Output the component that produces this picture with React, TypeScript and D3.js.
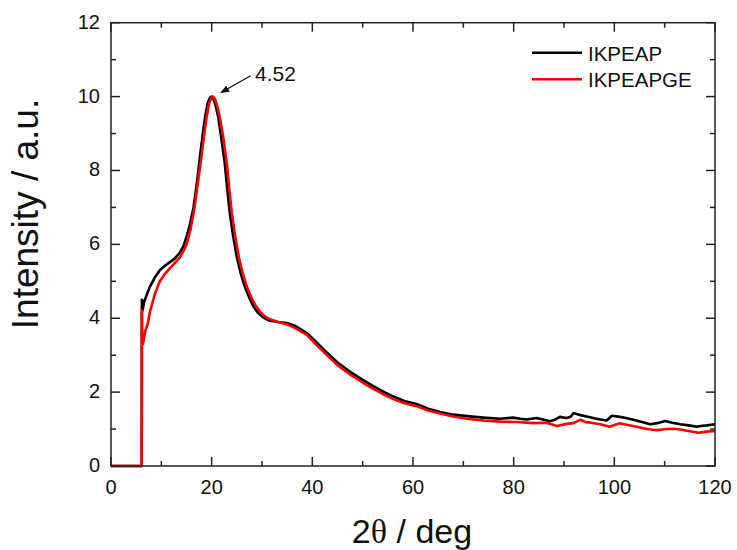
import React from "react";
import * as d3 from "d3";

const ikpeap: [number, number][] = [
  [0, 0], [6.1, 0], [6.12, 2.25], [6.14, 4.5], [6.25, 4.2], [6.6, 4.45], [7.7, 4.85], [8.7, 5.1], [9.7, 5.3],
  [10.7, 5.42], [11.7, 5.52], [12.7, 5.62], [13.7, 5.78], [14.4, 5.95], [15.0, 6.2], [15.7, 6.55], [16.4, 7.0],
  [17.1, 7.7], [17.7, 8.4], [18.2, 8.95], [18.7, 9.45], [19.2, 9.82], [19.7, 9.98], [20.0, 10.0], [20.4, 9.92],
  [20.8, 9.75], [21.3, 9.45], [21.9, 8.9], [22.6, 8.2], [23.1, 7.5], [23.6, 6.85], [24.3, 6.2], [25.0, 5.65],
  [25.8, 5.2], [26.6, 4.85], [27.5, 4.55], [28.3, 4.32], [29.2, 4.15], [30.3, 4.02], [31.6, 3.93], [33.2, 3.9],
  [34.9, 3.87], [36.5, 3.8], [38.9, 3.6], [40.8, 3.35], [42.9, 3.07], [45, 2.8], [47.5, 2.55], [50, 2.33],
  [52.1, 2.16], [54, 2.02], [56.1, 1.88], [58.3, 1.76], [60.7, 1.68], [63, 1.55], [65.4, 1.46], [68, 1.39],
  [70.7, 1.35], [74, 1.31], [77.3, 1.28], [79.9, 1.31], [81.3, 1.28], [82.6, 1.26], [84.5, 1.3], [86, 1.25],
  [87.2, 1.21], [88.3, 1.26], [89.2, 1.33], [90.5, 1.3], [91.3, 1.33], [91.9, 1.43], [92.5, 1.41], [93.5, 1.37],
  [94.5, 1.34], [96, 1.29], [97.2, 1.26], [98.5, 1.23], [99.5, 1.36], [101.1, 1.33], [102.5, 1.29], [103.8, 1.25],
  [105.5, 1.19], [107.1, 1.13], [108.5, 1.16], [110.1, 1.22], [111.5, 1.17], [113.1, 1.13], [114.8, 1.1],
  [116.4, 1.06], [117.5, 1.09], [118.4, 1.1], [120, 1.13],
];

const ikpeapge: [number, number][] = [
  [0, 0], [6.1, 0], [6.13, 4.2], [6.2, 3.4], [6.35, 3.3], [6.8, 3.65], [7.3, 3.85], [7.7, 4.15], [8.7, 4.65],
  [9.7, 5.0], [10.7, 5.2], [11.7, 5.35], [12.7, 5.5], [13.7, 5.65], [14.4, 5.82], [15.0, 6.0], [15.8, 6.4],
  [16.6, 7.0], [17.3, 7.7], [18.0, 8.4], [18.5, 8.95], [19.0, 9.45], [19.5, 9.82], [20.0, 9.98], [20.3, 10.0],
  [20.7, 9.92], [21.1, 9.75], [21.6, 9.45], [22.3, 8.9], [23.0, 8.2], [23.5, 7.5], [24.0, 6.85], [24.7, 6.2],
  [25.4, 5.65], [26.2, 5.2], [27.0, 4.85], [27.9, 4.55], [28.7, 4.35], [29.6, 4.18], [30.6, 4.05], [31.6, 3.97],
  [33.2, 3.9], [34.9, 3.84], [36.5, 3.74], [38.9, 3.55], [40.8, 3.28], [42.9, 3.0], [45, 2.73], [47.5, 2.48],
  [50, 2.26], [52.1, 2.09], [54, 1.95], [56.1, 1.81], [58.3, 1.7], [60.7, 1.62], [63, 1.5], [65.4, 1.42],
  [68, 1.34], [70.7, 1.28], [74, 1.23], [77.3, 1.2], [80.6, 1.19], [83.9, 1.16], [86.5, 1.17], [88.6, 1.08],
  [90.5, 1.14], [91.9, 1.16], [93.2, 1.25], [94.5, 1.18], [95.1, 1.18], [97.2, 1.13], [99.1, 1.06],
  [101.1, 1.16], [102.7, 1.11], [104.4, 1.06], [106.5, 1.0], [108.4, 0.97], [110.4, 1.0], [111.8, 1.01],
  [113.1, 0.99], [115, 0.94], [116.7, 0.9], [118.4, 0.93], [120, 0.95],
];

const xMajor = [0, 20, 40, 60, 80, 100, 120];
const xMinor = [10, 30, 50, 70, 90, 110];
const yMajor = [0, 2, 4, 6, 8, 10, 12];
const yMinor = [1, 3, 5, 7, 9, 11];
const seriesNames = ["IKPEAP", "IKPEAPGE"];
const seriesColors = ["#000000", "#ff0000"];
const peakLabel = "4.52";

const W = 737;
const H = 550;
const L = 111, R = 715, T = 22.7, B = 466;
const FONT = "'Liberation Sans', Arial, sans-serif";

export default function App() {
  const x = d3.scaleLinear().domain([0, 120]).range([L, R]);
  const y = d3.scaleLinear().domain([0, 12]).range([B, T]);
  const line = d3.line<[number, number]>().x((d) => x(d[0])).y((d) => y(d[1])).curve(d3.curveLinear);
  const axisColor = "#222";
  const major = 9, minor = 5;

  return (
    <svg width={W} height={H} style={{ position: "absolute", left: 0, top: 0, background: "#fff" }}>
      <defs>
        <marker id="ah" viewBox="0 0 10 10" refX="9" refY="5" markerWidth="9" markerHeight="9" orient="auto" markerUnits="userSpaceOnUse">
          <path d="M0,1 L10,5 L0,9 z" fill="#111" />
        </marker>
      </defs>
      <rect x={0} y={0} width={W} height={H} fill="#fff" />
      <path d={line(ikpeap) || ""} fill="none" stroke={seriesColors[0]} strokeWidth={2.6} strokeLinejoin="round" />
      <path d={line(ikpeapge) || ""} fill="none" stroke={seriesColors[1]} strokeWidth={2.6} strokeLinejoin="round" />
      <rect x={L} y={T} width={R - L} height={B - T} fill="none" stroke={axisColor} strokeWidth={1.5} />
      {xMajor.map((v) => (
        <g key={"xm" + v}>
          <line x1={x(v)} x2={x(v)} y1={B} y2={B - major} stroke={axisColor} strokeWidth={1.5} />
          <line x1={x(v)} x2={x(v)} y1={T} y2={T + major} stroke={axisColor} strokeWidth={1.5} />
          <text x={x(v)} y={B + 28} textAnchor="middle" fontFamily={FONT} fontSize={20} fill="#111">{v}</text>
        </g>
      ))}
      {xMinor.map((v) => (
        <g key={"xn" + v}>
          <line x1={x(v)} x2={x(v)} y1={B} y2={B - minor} stroke={axisColor} strokeWidth={1.5} />
          <line x1={x(v)} x2={x(v)} y1={T} y2={T + minor} stroke={axisColor} strokeWidth={1.5} />
        </g>
      ))}
      {yMajor.map((v) => (
        <g key={"ym" + v}>
          <line x1={L} x2={L + major} y1={y(v)} y2={y(v)} stroke={axisColor} strokeWidth={1.5} />
          <line x1={R} x2={R - major} y1={y(v)} y2={y(v)} stroke={axisColor} strokeWidth={1.5} />
          <text x={100} y={y(v) + 6} textAnchor="end" fontFamily={FONT} fontSize={20} fill="#111">{v}</text>
        </g>
      ))}
      {yMinor.map((v) => (
        <g key={"yn" + v}>
          <line x1={L} x2={L + minor} y1={y(v)} y2={y(v)} stroke={axisColor} strokeWidth={1.5} />
          <line x1={R} x2={R - minor} y1={y(v)} y2={y(v)} stroke={axisColor} strokeWidth={1.5} />
        </g>
      ))}
      <text x={412} y={543} textAnchor="middle" fontFamily={FONT} fontSize={34} fill="#111">
        2<tspan fontFamily="'Liberation Serif', 'Times New Roman', serif">θ</tspan> / deg
      </text>
      <text transform={`translate(38,214) rotate(-90)`} textAnchor="middle" fontFamily={FONT} fontSize={37} fill="#111">
        Intensity / a.u.
      </text>
      {seriesNames.map((n, i) => (
        <g key={n}>
          <line x1={532} x2={582} y1={52.7 + i * 26.6} y2={52.7 + i * 26.6} stroke={seriesColors[i]} strokeWidth={2.6} />
          <text x={588} y={60.5 + i * 26.6} fontFamily={FONT} fontSize={20.5} fill="#111">{n}</text>
        </g>
      ))}
      <line x1={250.7} y1={75.7} x2={221} y2={92.5} stroke="#111" strokeWidth={1.3} markerEnd="url(#ah)" />
      <text x={255} y={81} fontFamily={FONT} fontSize={21} fill="#111">{peakLabel}</text>
    </svg>
  );
}
